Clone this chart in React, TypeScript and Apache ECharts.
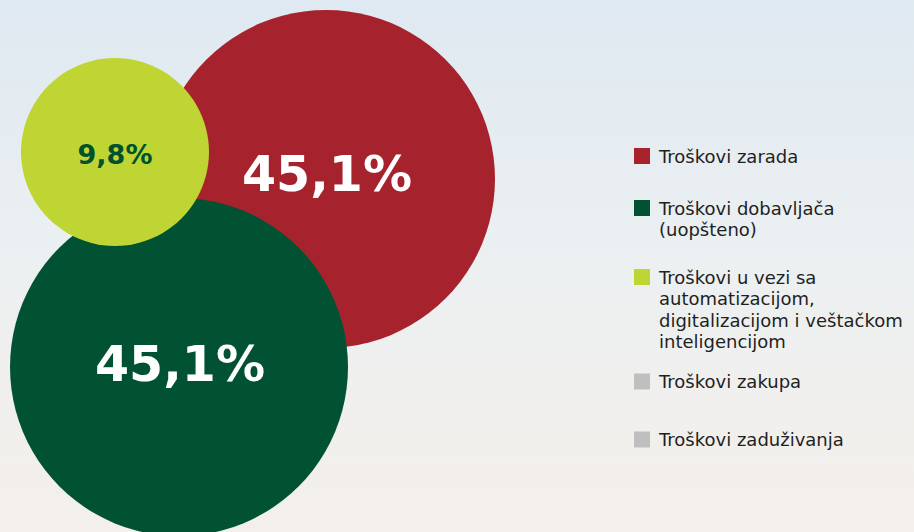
import React, { useEffect, useRef } from "react";
import * as echarts from "echarts";

// ---- data ----
const categories: string[] = [
  "Troškovi zarada",
  "Troškovi dobavljača (uopšteno)",
  "Troškovi u vezi sa automatizacijom, digitalizacijom i veštačkom inteligencijom",
  "Troškovi zakupa",
  "Troškovi zaduživanja",
];
const values: (number | null)[] = [45.1, 45.1, 9.8, null, null];
const legendLabels: string[] = [
  "Troškovi zarada",
  "Troškovi dobavljača\n(uopšteno)",
  "Troškovi u vezi sa\nautomatizacijom,\ndigitalizacijom i veštačkom\ninteligencijom",
  "Troškovi zakupa",
  "Troškovi zaduživanja",
];

// ---- styles / layout ----
const colors = ["#a6232d", "#005233", "#bed533", "#bfbfbf", "#bfbfbf"];
// packed-bubble layout: center x, center y, diameter (px)
const bubbleLayout: [number, number, number][] = [
  [326, 179, 338],
  [179, 367, 338],
  [115, 152, 188],
  [0, 0, 0],
  [0, 0, 0],
];
const labelStyles = [
  { color: "#ffffff", fontSize: 49, offset: [1, -5] },
  { color: "#ffffff", fontSize: 49, offset: [1, -3] },
  { color: "#00522f", fontSize: 27, offset: [0, 2] },
  { color: "#ffffff", fontSize: 20, offset: [0, 0] },
  { color: "#ffffff", fontSize: 20, offset: [0, 0] },
];
const LABEL_FONT = "DejaVu Sans";
const LEGEND_FONT = "DejaVu Sans";
const legendFirstLineCenters = [156, 208, 277, 381.5, 439.5];
const LH = 21.5;
const ICON = 16;
const ICON_BOX = 20;

const fmt = (v: number) => v.toFixed(1).replace(".", ",") + "%";

export default function App() {
  const ref = useRef<HTMLDivElement>(null);
  useEffect(() => {
    if (!ref.current) return;
    const chart = echarts.init(ref.current, undefined, { renderer: "svg" });

    const series = categories.map((name, i) => {
      const v = values[i];
      const [cx, cy, d] = bubbleLayout[i];
      const ls = labelStyles[i];
      return {
        type: "scatter",
        name,
        silent: true,
        symbol: "circle",
        symbolSize: d,
        itemStyle: { color: colors[i], opacity: 1, borderWidth: 0 },
        emphasis: { disabled: true },
        z: 2 + i,
        label: {
          show: true,
          position: "inside",
          formatter: (p: any) => fmt(p.value[2]),
          color: ls.color,
          fontSize: ls.fontSize,
          fontWeight: "bold",
          fontFamily: LABEL_FONT,
          offset: ls.offset,
        },
        data: v == null ? [] : [[cx, cy, v]],
      };
    });

    const legends = categories.map((name, i) => {
      const n = legendLabels[i].split("\n").length;
      const h = n * LH;
      const s0 = LH / 2 - ICON / 2;
      const s1 = LH / 2 + ICON / 2;
      const icon =
        `path://M0,0L${ICON_BOX},0Z` +
        `M0,${s0}L${ICON},${s0}L${ICON},${s1}L0,${s1}Z` +
        `M0,${h}L${ICON_BOX},${h}Z`;
      return {
        data: [name],
        left: 634,
        top: legendFirstLineCenters[i] - LH / 2,
        padding: 0,
        orient: "vertical",
        icon,
        itemWidth: ICON_BOX,
        itemHeight: h,
        symbolKeepAspect: false,
        selectedMode: false,
        formatter: () => legendLabels[i],
        itemStyle: { borderWidth: 0 },
        textStyle: {
          color: "#1f1f1f",
          fontSize: 18,
          fontFamily: LEGEND_FONT,
          lineHeight: LH,
        },
      };
    });

    chart.setOption({
      animation: false,
      backgroundColor: {
        type: "linear",
        x: 0,
        y: 0,
        x2: 0,
        y2: 1,
        colorStops: [
          { offset: 0, color: "#dfe9f1" },
          { offset: 0.5, color: "#ecf0f1" },
          { offset: 1, color: "#f4efea" },
        ],
      },
      grid: { left: 0, right: 0, top: 0, bottom: 0 },
      xAxis: { type: "value", min: 0, max: 914, show: false },
      yAxis: { type: "value", min: 0, max: 532, inverse: true, show: false },
      legend: legends,
      series,
    });
    return () => chart.dispose();
  }, []);
  return (
    <div
      ref={ref}
      style={{ position: "absolute", left: 0, top: 0, width: 914, height: 532 }}
    />
  );
}
